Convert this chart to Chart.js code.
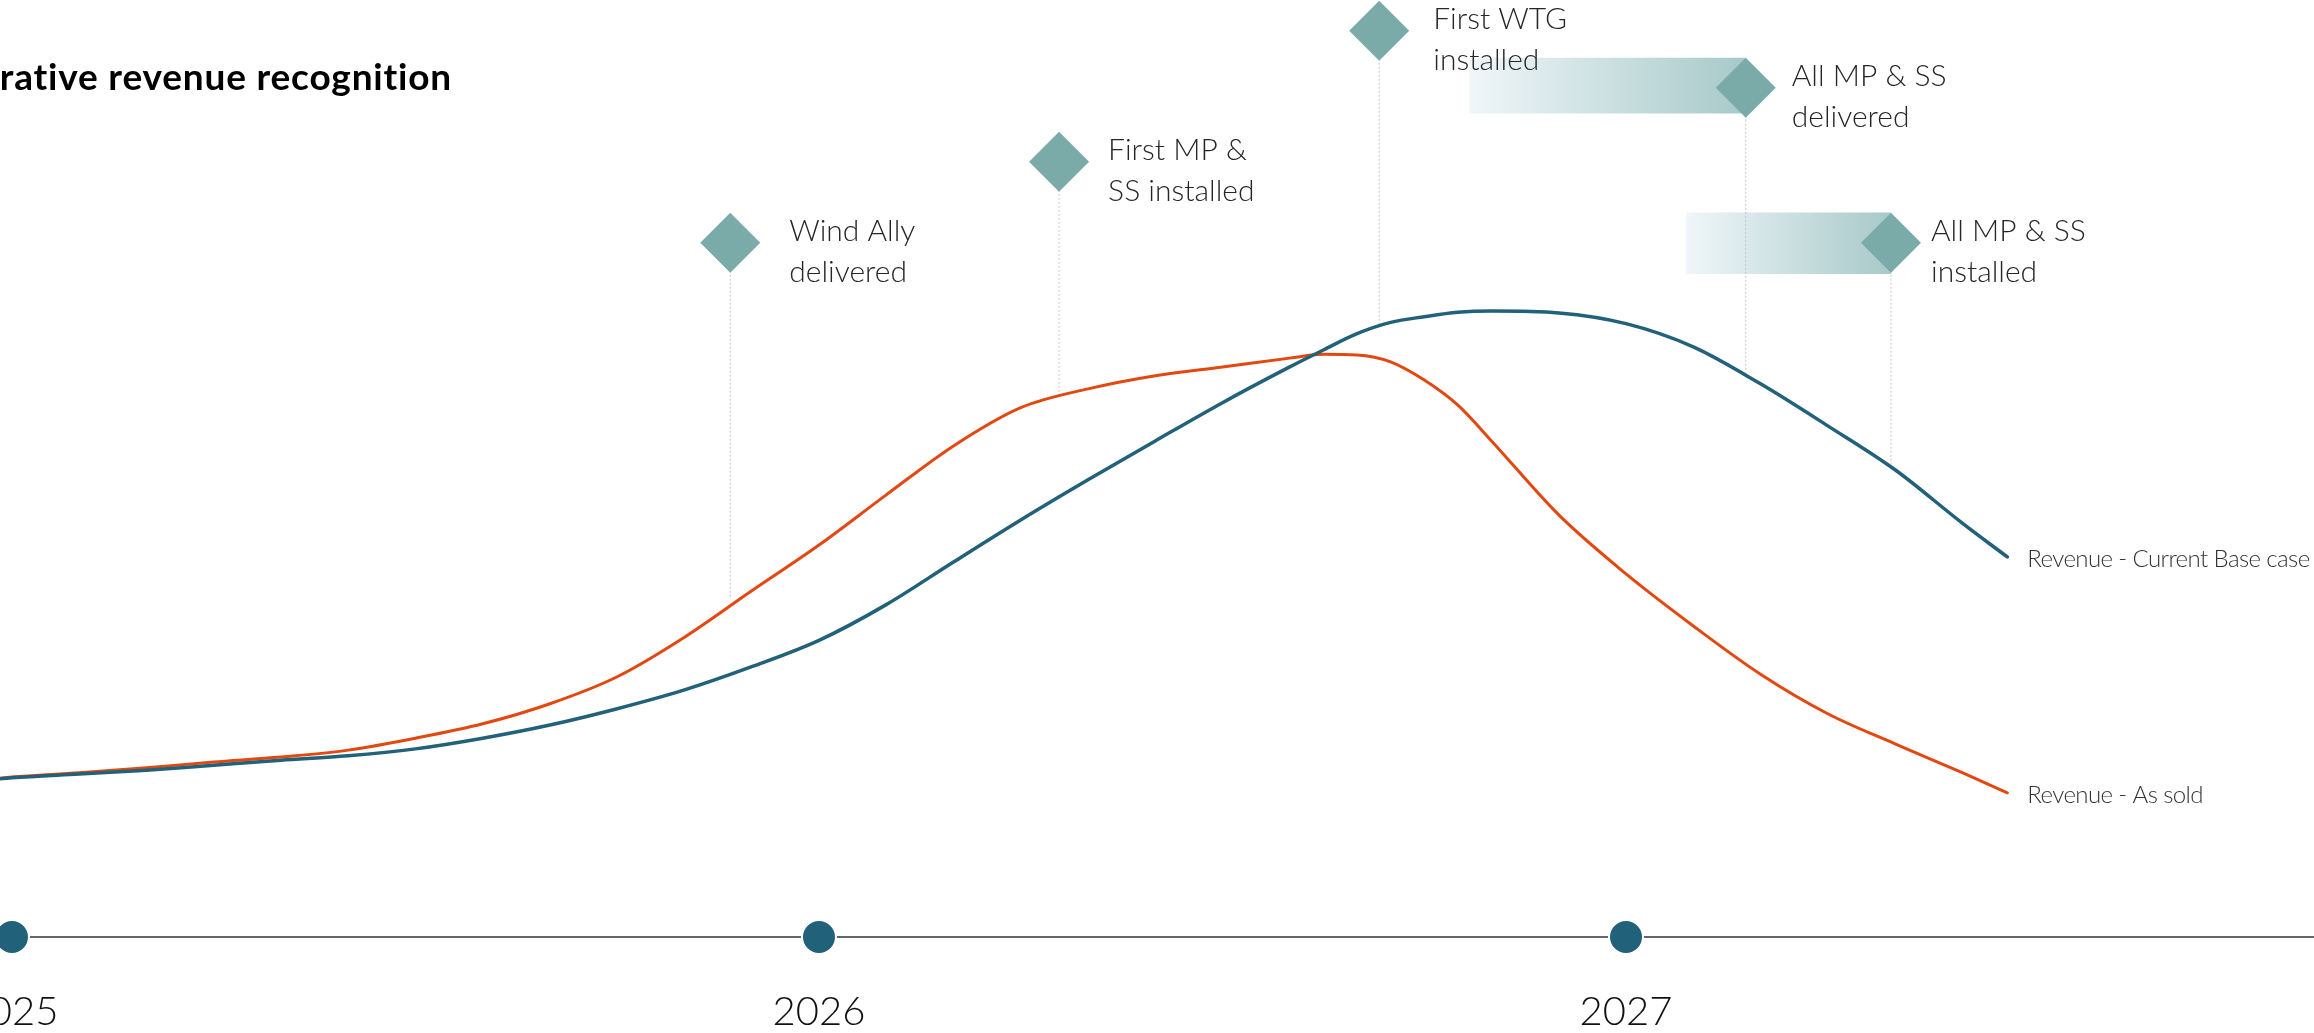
<!DOCTYPE html>
<html>
<head>
<meta charset="utf-8">
<script src="https://cdn.jsdelivr.net/npm/chart.js@4.4.1/dist/chart.umd.min.js"></script>
<style>
  html, body { margin: 0; padding: 0; background: #fff; overflow: hidden; }
  #wrap { position: relative; width: 2314px; height: 1033px; }
</style>
</head>
<body>
<div id="wrap"><canvas id="revenueChart"></canvas></div>
<script>
// x values are months counted from January 2025
const months = [-0.5, 0, 1, 2, 3, 4, 5, 6, 7, 8, 9, 10, 11, 12, 13, 14, 15, 16, 17, 18,
  19, 19.5, 20, 20.5, 21, 21.5, 22, 23, 24, 25, 26, 27, 28, 29, 29.67];

// revenue index (peak of current base case = 100)
const revenueBaseCase = [24.9, 25.4, 26.0, 26.6, 27.4, 28.2, 28.9, 30.0, 31.7, 33.8, 36.4, 39.4, 43.1, 47.3, 53.0, 59.8, 66.5, 72.9, 79.1, 85.2,
  90.9, 93.6, 96.2, 98.0, 98.9, 99.6, 99.8, 99.5, 97.8, 94.1, 88.2, 81.5, 74.5, 66.0, 60.6];
const revenueAsSold = [25.0, 25.5, 26.2, 27.0, 27.9, 28.7, 29.8, 31.7, 34.0, 37.2, 41.5, 47.8, 55.2, 62.5, 70.5, 78.3, 84.4, 87.4, 89.5, 90.9,
  92.3, 92.9, 92.8, 91.7, 88.8, 84.8, 79.1, 67.3, 57.9, 49.6, 41.9, 35.6, 30.8, 26.2, 23.0];

const yearLabels = ['2025', '2026', '2027'];
const yearMonths = [0, 12, 24];

const milestoneNames = [
  ['Wind Ally', 'delivered'],
  ['First MP &', 'SS installed'],
  ['First WTG', 'installed'],
  ['All MP & SS', 'delivered'],
  ['All MP & SS', 'installed'],
];
const milestoneMonths = [10.68, 15.57, 20.33, 25.78, 27.94];
const milestoneLevels = [110.7, 123.6, 144.5, 135.4, 110.7];
const milestoneStemEnds = [53.9, 86.9, 97.6, 90.0, 75.1];

// lead-time bands in front of the two "All MP & SS" milestones
const bandStarts = [21.67, 24.89];
const bandEnds = [25.78, 27.94];
const bandTops = [140.2, 115.5];
const bandBottoms = [131.3, 105.7];

const BLUE = '#22617a';
const ORANGE = '#e2480f';
const TEAL = '#7aaba9';
const labelOffsets = [59, 49, 54, 46, 40];

const toPoints = (xs, ys) => xs.map((x, i) => ({ x: x, y: ys[i] }));

function bandFill(i) {
  return (context) => {
    const chart = context.chart;
    const xScale = chart.scales && chart.scales.x;
    if (!chart.chartArea || !xScale) return 'rgba(0,0,0,0)';
    const x0 = xScale.getPixelForValue(bandStarts[i]);
    const x1 = xScale.getPixelForValue(bandEnds[i]);
    const g = chart.ctx.createLinearGradient(x0, 0, x1, 0);
    g.addColorStop(0, '#f0f6f9');
    g.addColorStop(1, '#a8c9c9');
    return g;
  };
}

const datasets = [
  {
    label: 'Milestones',
    data: toPoints(milestoneMonths, milestoneLevels),
    showLine: false,
    pointStyle: 'rectRot',
    pointRadius: 30,
    pointBackgroundColor: TEAL,
    pointBorderWidth: 0,
    order: 0,
  },
  {
    label: 'Revenue - Current Base case',
    data: toPoints(months, revenueBaseCase),
    borderColor: BLUE,
    borderWidth: 3.5,
    borderCapStyle: 'round',
    pointRadius: 0,
    cubicInterpolationMode: 'monotone',
    order: 1,
  },
  {
    label: 'Revenue - As sold',
    data: toPoints(months, revenueAsSold),
    borderColor: ORANGE,
    borderWidth: 3,
    borderCapStyle: 'round',
    pointRadius: 0,
    cubicInterpolationMode: 'monotone',
    order: 2,
  },
  {
    label: 'Timeline',
    data: yearMonths.map((m) => ({ x: m, y: 0 })).concat([{ x: 40, y: 0 }]),
    borderColor: '#333',
    borderWidth: 1.6,
    pointRadius: [17, 17, 17, 0],
    pointBackgroundColor: BLUE,
    pointBorderColor: '#fff',
    pointBorderWidth: 2,
    order: 3,
  },
];

milestoneMonths.forEach((m, i) => {
  datasets.push({
    label: 'stem ' + i,
    data: [{ x: m, y: milestoneLevels[i] }, { x: m, y: milestoneStemEnds[i] }],
    borderColor: '#c6c6c6',
    borderWidth: 1,
    borderDash: [2, 2],
    pointRadius: 0,
    order: 4,
  });
});

bandStarts.forEach((s, i) => {
  datasets.push({
    label: 'band ' + i,
    data: [{ x: s, y: bandTops[i] }, { x: bandEnds[i], y: bandTops[i] }],
    borderWidth: 0,
    pointRadius: 0,
    fill: { value: bandBottoms[i] },
    backgroundColor: bandFill(i),
    order: 5,
  });
});

const textPlugin = {
  id: 'chartTexts',
  afterDatasetsDraw(chart) {
    const ctx = chart.ctx;
    const x = chart.scales.x;
    const y = chart.scales.y;
    ctx.save();
    ctx.textBaseline = 'alphabetic';

    ctx.font = 'bold 37px Lato';
    ctx.fillStyle = '#000';
    ctx.textAlign = 'right';
    ctx.letterSpacing = '0.8px';
    ctx.fillText('Illustrative revenue recognition', 452, 90);

    ctx.letterSpacing = '0px';
    ctx.font = '300 30px Lato';
    ctx.fillStyle = '#262626';
    ctx.textAlign = 'left';
    milestoneNames.forEach((lines, i) => {
      const px = x.getPixelForValue(milestoneMonths[i]) + labelOffsets[i];
      const py = y.getPixelForValue(milestoneLevels[i]);
      lines.forEach((t, k) => ctx.fillText(t, px, py - 2 + k * 41));
    });

    ctx.font = '300 24px Lato';
    ctx.letterSpacing = '-0.6px';
    ctx.fillStyle = '#333';
    [[revenueBaseCase, 'Revenue - Current Base case'], [revenueAsSold, 'Revenue - As sold']].forEach(([vals, t]) => {
      const last = vals.length - 1;
      ctx.fillText(t, x.getPixelForValue(months[last]) + 20, y.getPixelForValue(vals[last]) + 10);
    });

    ctx.letterSpacing = '0px';
    ctx.font = '300 40px Lato';
    ctx.fillStyle = '#111';
    ctx.textAlign = 'center';
    yearLabels.forEach((t, i) => {
      ctx.fillText(t, x.getPixelForValue(yearMonths[i]), y.getPixelForValue(0) + 88);
    });
    ctx.restore();
  },
};

new Chart(document.getElementById('revenueChart'), {
  type: 'line',
  data: { datasets: datasets },
  options: {
    responsive: true,
    maintainAspectRatio: false,
    animation: false,
    events: [],
    layout: { padding: 0, autoPadding: false },
    plugins: { legend: { display: false }, tooltip: { enabled: false } },
    scales: {
      x: { type: 'linear', min: -0.178, max: 34.23, display: false },
      y: { type: 'linear', min: -15.3, max: 149.4, display: false },
    },
  },
  plugins: [textPlugin],
});
</script>
</body>
</html>
